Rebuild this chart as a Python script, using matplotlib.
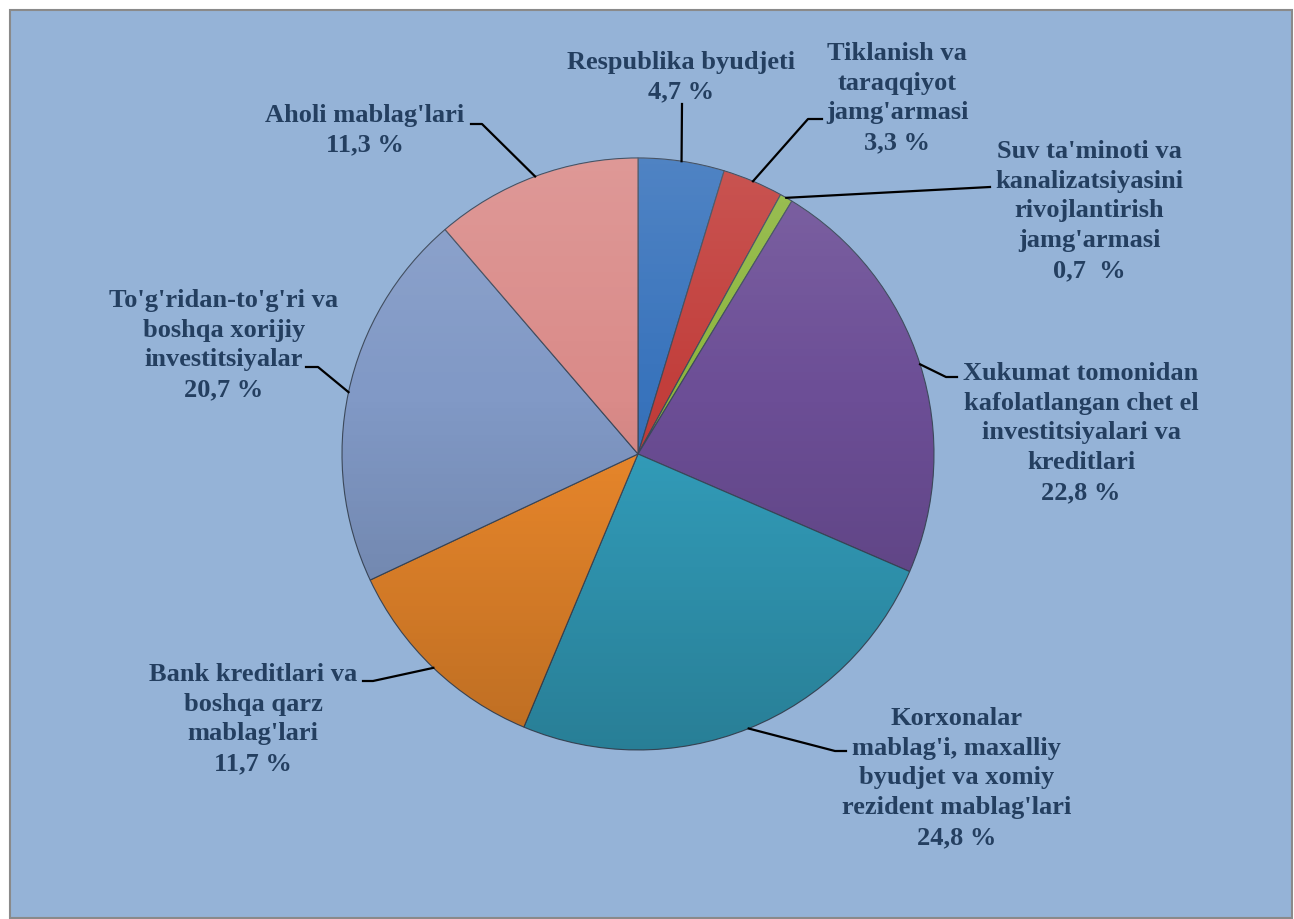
import matplotlib.pyplot as plt
import numpy as np
from matplotlib.patches import Rectangle, Circle

# manbalar bo'yicha ulushlar, %
labels = [
    "Respublika byudjeti",
    "Tiklanish va\ntaraqqiyot\njamg'armasi",
    "Suv ta'minoti va\nkanalizatsiyasini\nrivojlantirish\njamg'armasi",
    "Xukumat tomonidan\nkafolatlangan chet el\ninvestitsiyalari va\nkreditlari",
    "Korxonalar\nmablag'i, maxalliy\nbyudjet va xomiy\nrezident mablag'lari",
    "Bank kreditlari va\nboshqa qarz\nmablag'lari",
    "To'g'ridan-to'g'ri va\nboshqa xorijiy\ninvestitsiyalar",
    "Aholi mablag'lari",
]
shares = [4.7, 3.3, 0.7, 22.8, 24.8, 11.7, 20.7, 11.3]
share_text = ["4,7 %", "3,3 %", "0,7  %", "22,8 %", "24,8 %", "11,7 %", "20,7 %", "11,3 %"]

colors = ["#3873BC", "#C23E3B", "#8DB63E", "#6C4E96", "#33A0BE",
          "#EE8A2C", "#8199C6", "#DA8B89"]

W, H = 1294, 920
txt_color = "#243F60"

# label centres and leader elbows, in pixels from the top-left corner
label_pos = [(681, 77), (897, 98), (1089, 211), (1081, 433),
             (957, 778), (253, 719), (224, 345), (365, 130)]
leader_pts = [
    [(682, 105)],
    [(808, 120), (822, 120)],
    [(990, 188)],
    [(946, 378), (957, 378)],
    [(835, 752), (846, 752)],
    [(373, 682), (363, 682)],
    [(318, 368), (306, 368)],
    [(482, 125), (471, 125)],
]

cx, cy, r = 638, H - 455, 296

fig = plt.figure(figsize=(W / 100, H / 100), dpi=100, facecolor="white")
ax = fig.add_axes([0, 0, 1, 1])

ax.add_patch(Rectangle((10, 1), W - 12, H - 12, facecolor="#95B3D7",
                       edgecolor="#8a8a8a", linewidth=1.5, zorder=0))

wedges, _ = ax.pie(shares, colors=colors, startangle=90, counterclock=False,
                   center=(cx, cy), radius=r, frame=True,
                   wedgeprops=dict(edgecolor="#3d4a5c", linewidth=0.8))

# soft top-to-bottom shading over the pie
grad = np.linspace(0, 1, 256)
shade = np.zeros((256, 1, 4))
shade[:, 0, :3] = np.where(grad[:, None] < 0.4, 1.0, 0.0)
shade[:, 0, 3] = np.where(grad < 0.4, (0.4 - grad) * 0.3, (grad - 0.4) * 0.35)
im = ax.imshow(shade, extent=(cx - r, cx + r, cy - r, cy + r), aspect="auto",
               zorder=3, interpolation="bilinear")
clip = Circle((cx, cy), r, transform=ax.transData)
im.set_clip_path(clip)

for w in wedges:
    w.set_zorder(2)

for i, w in enumerate(wedges):
    mid = np.deg2rad((w.theta1 + w.theta2) / 2)
    xs = [cx + r * np.cos(mid)] + [p[0] for p in leader_pts[i]]
    ys = [cy + r * np.sin(mid)] + [H - p[1] for p in leader_pts[i]]
    ax.plot(xs, ys, color="black", linewidth=1.6, zorder=4)
    lx, ly = label_pos[i]
    ax.text(lx, H - ly, labels[i] + "\n" + share_text[i], ha="center", va="center",
            multialignment="center", fontsize=19, fontweight="bold",
            family="Liberation Serif", color=txt_color, linespacing=1.37, zorder=5)

ax.set_xlim(0, W)
ax.set_ylim(0, H)
ax.set_axis_off()

fig.savefig("out.png", dpi=100, facecolor="white")
